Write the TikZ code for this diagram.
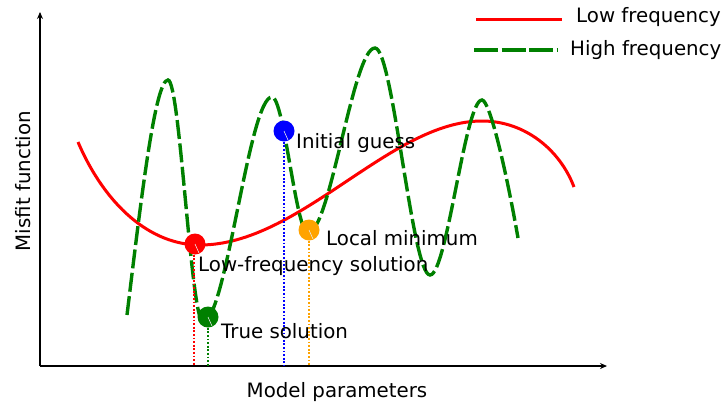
\documentclass[tikz,border=0pt]{standalone}
\usepackage{fontspec}
\setmainfont{DejaVu Sans}
\usetikzlibrary{arrows.meta}
\definecolor{mred}{RGB}{255,0,0}
\definecolor{mgreen}{RGB}{0,128,0}
\definecolor{mblue}{RGB}{0,0,255}
\definecolor{morange}{RGB}{255,163,0}
\begin{document}
\begin{tikzpicture}[x=1pt,y=-1pt,
  lf/.style={mred,line width=3pt},
  hf/.style={mgreen,line width=3.4pt,dash pattern=on 19pt off 4.5pt},
  axis/.style={black,line width=1.1pt,-{Stealth[length=7pt,width=6pt]}},
  vline/.style={line width=1.8pt,dash pattern=on 1.8pt off 1.8pt},
  pt/.style={circle,inner sep=0pt,minimum size=21pt},
  lbl/.style={anchor=west,inner sep=0pt,font=\fontsize{19.8}{24}\selectfont},
]
\useasboundingbox (0,0) rectangle (722,405);
% axes
\coordinate (o) at (40,366);
\coordinate (ytop) at (40,12);
\coordinate (xend) at (607,366);
\draw[axis] (o) -- (ytop);
\draw[axis] (o) -- (xend);
\node[font=\fontsize{19.8}{24}\selectfont,rotate=90] (ylab) at (23,181) {Misfit function};
\node[font=\fontsize{19.8}{24}\selectfont] (xlab) at (337,392) {Model parameters};
% low-frequency curve
\draw[lf] (78,142) .. controls (105,205) and (150,245) .. (200,245)
  .. controls (300,245) and (390,121) .. (482,121)
  .. controls (525,121) and (560,150) .. (574,187);
% high-frequency curve
\draw[hf] (127,315) .. controls (141,200) and (155,80) .. (168,80)
 .. controls (180,80) and (191,322) .. (203,322)
 .. controls (226,322) and (249,97) .. (272,97)
 .. controls (284,97) and (296,233) .. (308,233)
 .. controls (330,233) and (353,48) .. (375,48)
 .. controls (393,48) and (412,275) .. (430,275)
 .. controls (447,275) and (465,100) .. (482,100)
 .. controls (490,100) and (507,175) .. (518,238);
% points
\node[pt,fill=mred] (lfs) at (195,244) {};
\node[pt,fill=mgreen] (ts) at (208,317) {};
\node[pt,fill=mblue] (ig) at (284,131) {};
\node[pt,fill=morange] (lm) at (309,230) {};
\coordinate (lfsb) at (194,366);
\coordinate (tsb) at (208,366);
\coordinate (igb) at (284,366);
\coordinate (lmb) at (309,366);
\draw[vline,mred] (lfs.south -| lfsb) -- (lfsb);
\draw[vline,mgreen] (ts.south) -- (tsb);
\draw[vline,mblue] (ig.south) -- (igb);
\draw[vline,morange] (lm.south) -- (lmb);
\foreach \p in {lfs,ts,ig,lm}{
  \draw[white!80!gray,line width=0.6pt] (\p.center) -- ++(4,9);
}
% labels
\node[lbl] (t1) at (296,143) {Initial guess};
\node[lbl] (t2) at (326,238) {Local minimum};
\node[lbl] (t3) at (198,266) {Low-frequency solution};
\node[lbl] (t4) at (221,331) {True solution};
% legend
\coordinate (l1a) at (476,19);
\coordinate (l1b) at (562,19);
\coordinate (l2a) at (474,50);
\coordinate (l2b) at (557,50);
\draw[lf] (l1a) -- (l1b);
\draw[hf,dash pattern=on 24pt off 3.5pt] (l2a) -- (l2b);
\node[lbl] (lg1) at (576,17) {Low frequency};
\node[lbl] (lg2) at (570,50) {High frequency};
\end{tikzpicture}
\end{document}
